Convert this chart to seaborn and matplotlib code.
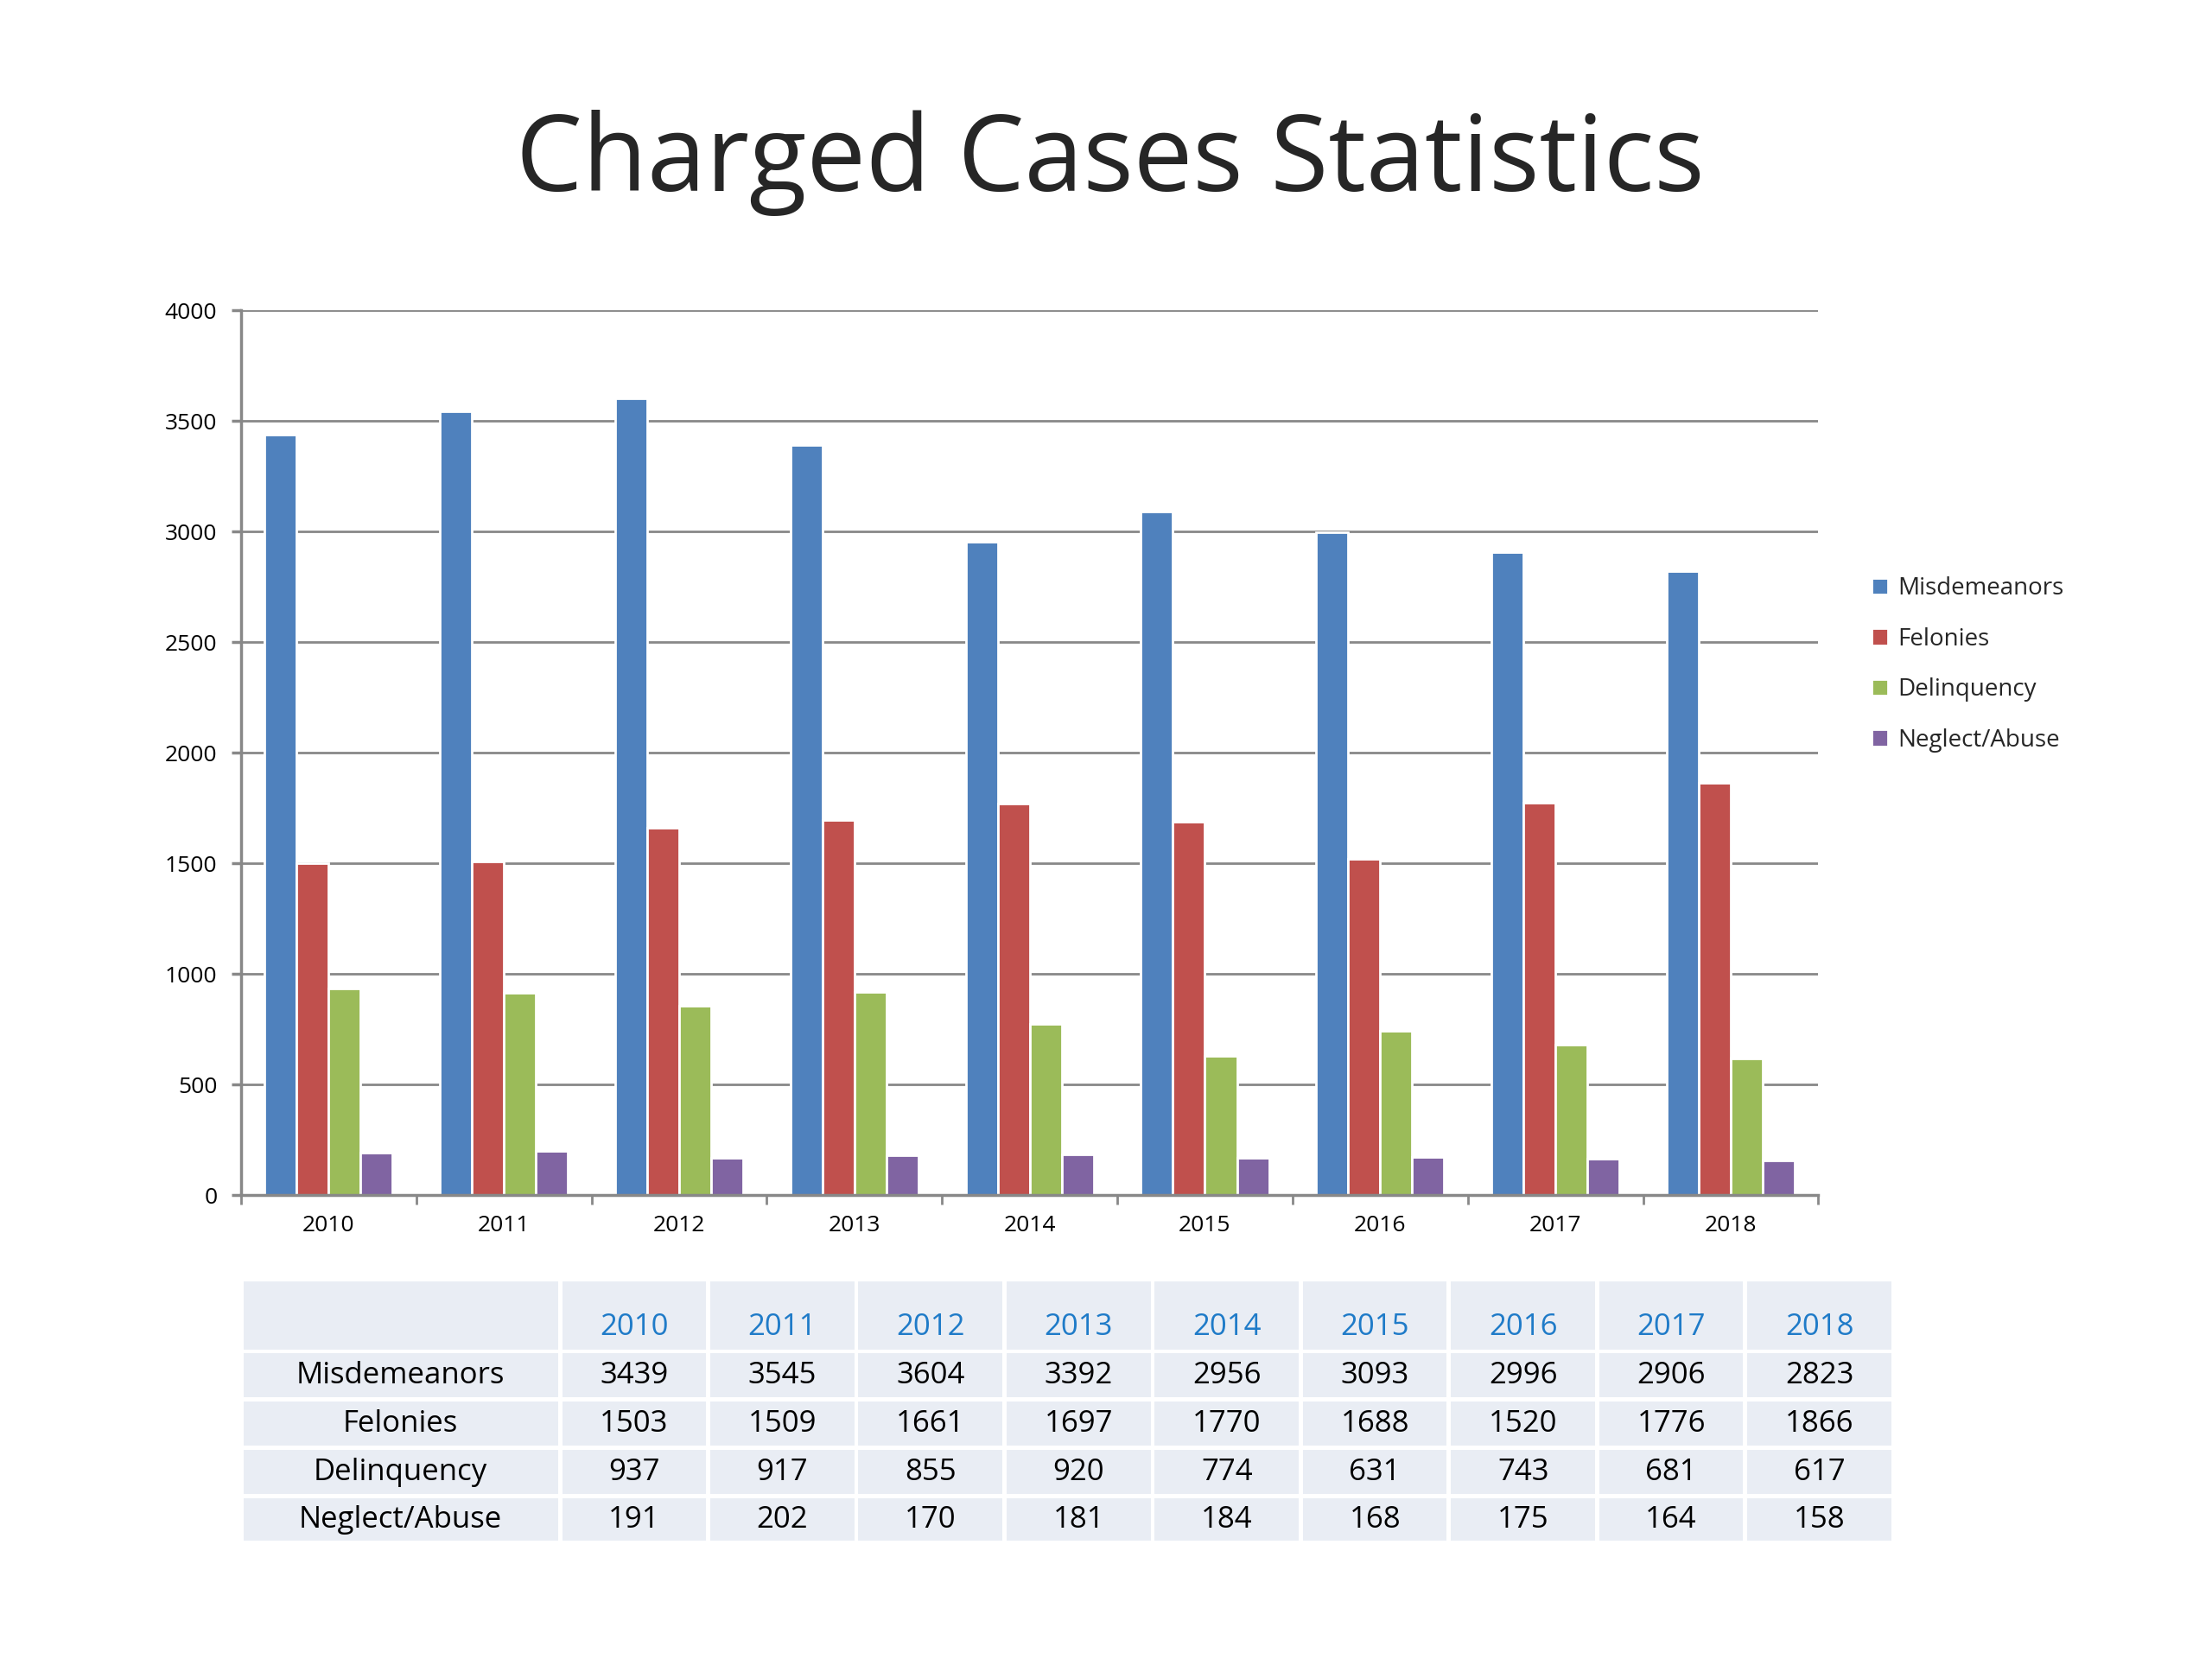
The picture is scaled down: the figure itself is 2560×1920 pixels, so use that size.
import matplotlib
matplotlib.use("Agg")
import matplotlib.pyplot as plt
import seaborn as sns
import pandas as pd
import numpy as np
from matplotlib.patches import Rectangle

years = ["2010","2011","2012","2013","2014","2015","2016","2017","2018"]
series = ["Misdemeanors","Felonies","Delinquency","Neglect/Abuse"]
misdemeanors = [3439,3545,3604,3392,2956,3093,2996,2906,2823]
felonies = [1503,1509,1661,1697,1770,1688,1520,1776,1866]
delinquency = [937,917,855,920,774,631,743,681,617]
neglect = [191,202,170,181,184,168,175,164,158]
colors = ["#4F81BD","#C0504D","#9BBB59","#8064A2"]
vals = [misdemeanors, felonies, delinquency, neglect]

rows = []
for s, v in zip(series, vals):
    for y, n in zip(years, v):
        rows.append({"Year": y, "Series": s, "Count": n})
df = pd.DataFrame(rows)

sns.set_theme(style="white")
plt.rcParams['font.family'] = ['Open Sans', 'DejaVu Sans']

fig = plt.figure(figsize=(12.8, 9.6), dpi=200)
fig.text(0.502, 0.902, "Charged Cases Statistics", ha="center", va="center", fontsize=44)

ax = fig.add_axes([0.109, 0.2795, 0.713, 0.5333])
sns.barplot(data=df, x="Year", y="Count", hue="Series", palette=colors,
            width=0.73, saturation=1, ax=ax, errorbar=None)
ax.set_ylim(0, 4000)
ax.set_xlim(-0.5, 8.5)
ax.set_yticks(range(0, 4001, 500))
ax.yaxis.grid(True, color="#888888", linewidth=1.0)
ax.set_axisbelow(True)
for s in ["top", "right"]:
    ax.spines[s].set_visible(False)
for s in ["left", "bottom"]:
    ax.spines[s].set_color("#888888")
ax.set_xlabel("")
ax.set_ylabel("")
ax.tick_params(axis="both", labelsize=9.5, colors="black")
ax.tick_params(axis="y", length=4, color="#888888", left=True, pad=6)
ax.tick_params(axis="x", length=0, pad=8)
ax.set_xticks(np.arange(-0.5, 9.0, 1), minor=True)
ax.tick_params(axis="x", which="minor", length=4, color="#888888", bottom=True)
ax.legend(loc="center left", bbox_to_anchor=(1.02, 0.6), frameon=False,
          fontsize=10, handlelength=0.7, handleheight=0.7, labelspacing=1.1,
          handletextpad=0.4)

# table
tab = fig.add_axes([0.109, 0.070, 0.747, 0.159])
tab.set_xlim(0, 1166); tab.set_ylim(186, 0); tab.axis("off")
first_w = 225
col_w = (1166 - first_w) / len(years)
row_tops = [0, 51, 85, 119, 153]
row_h = [51, 34, 34, 34, 33]
bg = "#E9EDF4"
for r in range(5):
    for c in range(len(years) + 1):
        x0 = 0 if c == 0 else first_w + (c - 1) * col_w
        w = first_w if c == 0 else col_w
        tab.add_patch(Rectangle((x0 + 1.5, row_tops[r] + 1.5), w - 3, row_h[r] - 3,
                                facecolor=bg, edgecolor="none"))
        cx = x0 + w / 2
        cy = row_tops[r] + (row_h[r] - 17 if r == 0 else row_h[r] / 2)
        if r == 0:
            if c > 0:
                tab.text(cx, cy, years[c - 1], ha="center", va="center",
                         fontsize=12.5, color="#1F7BC8")
        else:
            txt = series[r - 1] if c == 0 else str(vals[r - 1][c - 1])
            tab.text(cx, cy, txt, ha="center", va="center", fontsize=12.5, color="black")

fig.savefig("out.png", dpi=200)
